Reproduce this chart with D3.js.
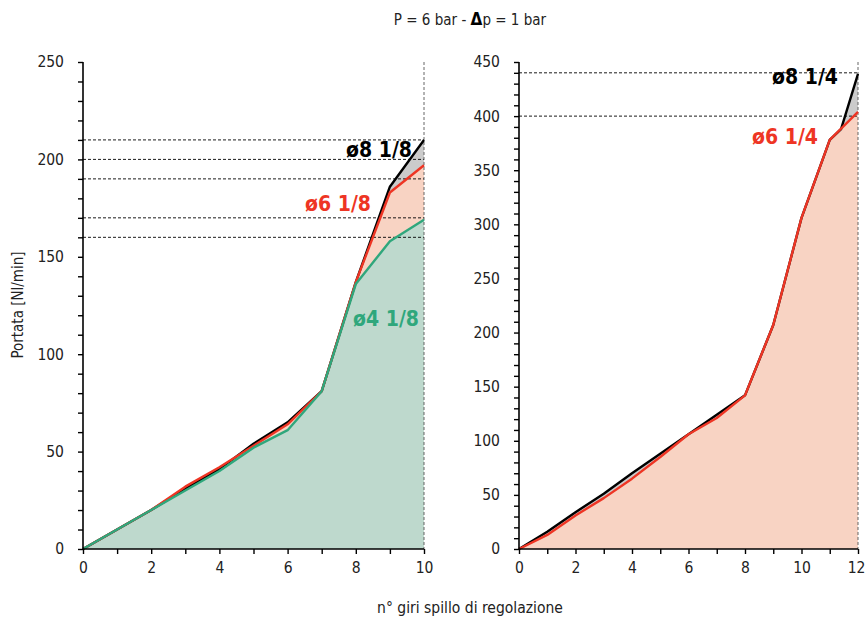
<!DOCTYPE html>
<html><head><meta charset="utf-8">
<script src="https://cdn.jsdelivr.net/npm/d3@7"></script>
<style>
body{margin:0;background:#fff;}
text{font-family:"Liberation Sans Narrow","DejaVu Sans Condensed","Roboto Condensed",sans-serif;}
</style></head><body>
<svg id="c" width="865" height="619"></svg>
<script>
// Left chart (1/8)
const xLeft = [0,1,2,3,4,5,6,7,8,9,10];
const leftBlack = [0,10,20,31,41,54,65,81,137,186,210];   // ø8 1/8
const leftRed   = [0,10,20,32,42,53,64,81,137,183,197];   // ø6 1/8
const leftGreen = [0,10,20,30,40,52,61,81,136,158,169];   // ø4 1/8
const leftRefLines = [210,200,190,170,160];
const leftYTicks = [0,50,100,150,200,250];
const leftXTicks = [0,2,4,6,8,10];
// Right chart (1/4)
const xRight = [0,1,2,3,4,5,6,7,8,9,10,11,12];
const rightRed = [0,13,31,47,65,85,106,121,142,207,306,378,404]; // ø6 1/4
const xRightBlack = [0,1,2,3,4,5,6,7,8,9,10,11,11.4,12];
const rightBlack = [0,16,34,51,70,88,106,124,142,207,306,378,388,439]; // ø8 1/4
const rightRefLines = [440,400];
const rightYTicks = [0,50,100,150,200,250,300,350,400,450];
const rightXTicks = [0,2,4,6,8,10,12];

const title = "P = 6 bar - ";
const yLabel = "Portata [Nl/min]";
const xLabel = "n° giri spillo di regolazione";

const svg = d3.select("#c");
const C = {black:"#000", red:"#ee3524", green:"#2fa77c",
  grayFill:"#cbcbcb", redFill:"#f8d3c3", greenFill:"#bed9cd"};

function panel(opts){
  const g = svg.append("g");
  const x = d3.scaleLinear().domain([0,opts.xmax]).range([opts.x0,opts.x1]);
  const y = d3.scaleLinear().domain([0,opts.ymax]).range([549,62]);
  const area = (xs) => d3.area().x((d,i)=>x(xs[i])).y0(y(0)).y1(d=>y(d));
  const line = (xs) => d3.line().x((d,i)=>x(xs[i])).y(d=>y(d));
  opts.series.forEach(s=>{
    g.append("path").attr("d",area(s.x)(s.v)).attr("fill",s.fill);
  });
  opts.refs.forEach(r=>{
    g.append("line").attr("x1",x(0)).attr("x2",x(opts.xmax)).attr("y1",y(r)).attr("y2",y(r))
     .attr("stroke","#000").attr("stroke-width",0.9).attr("stroke-dasharray","3,2");
  });
  g.append("line").attr("x1",x(opts.xmax)).attr("x2",x(opts.xmax)).attr("y1",y(opts.ymax)).attr("y2",y(0))
     .attr("stroke","#555").attr("stroke-width",0.9).attr("stroke-dasharray","3,2");
  opts.series.forEach(s=>{
    g.append("path").attr("d",line(s.x)(s.v)).attr("fill","none").attr("stroke",s.stroke)
     .attr("stroke-width",2.4).attr("stroke-linejoin","round");
  });
  const yAx = d3.axisLeft(y).tickValues(d3.range(0,opts.ymax+1,10)).tickSize(5)
     .tickFormat(d=>opts.yticks.includes(d)?d:"");
  const ya = g.append("g").attr("transform",`translate(${x(0)},0)`).call(yAx);
  const xAx = d3.axisBottom(x).tickValues(d3.range(0,opts.xmax+1,1)).tickSize(5)
     .tickFormat(d=>opts.xticks.includes(d)?d:"");
  const xa = g.append("g").attr("transform",`translate(0,${y(0)})`).call(xAx);
  [ya,xa].forEach(a=>{
    a.select(".domain").attr("stroke","#000").attr("stroke-width",1.6);
    a.selectAll(".tick line").attr("stroke","#000").attr("stroke-width",1.4);
    a.selectAll("text").attr("font-size",15.5).attr("fill","#222")
      .attr("font-family",'"Liberation Sans Narrow","DejaVu Sans Condensed",sans-serif');
  });
  ya.select(".domain").attr("d",`M0,${y(opts.ymax)}V${y(0)}`);
  xa.select(".domain").attr("d",`M${x(0)},0H${x(opts.xmax)}`);
  ya.selectAll("text").attr("x",-19);
  xa.selectAll("text").attr("y",13);
  // keep the last label inside the page
  xa.selectAll(".tick text").filter(d=>x(d)>850).attr("text-anchor","end").attr("x",865-x(opts.xmax));
  opts.labels.forEach(l=>{
    g.append("text").attr("x",l.x).attr("y",l.y).attr("text-anchor","end")
     .attr("font-size",21).attr("font-weight","bold").attr("fill",l.c).text(l.t);
  });
}

panel({x0:83,x1:424,xmax:10,ymax:250,refs:leftRefLines,yticks:leftYTicks,xticks:leftXTicks,
  series:[
    {x:xLeft,v:leftBlack,fill:C.grayFill,stroke:C.black},
    {x:xLeft,v:leftRed,fill:C.redFill,stroke:C.red},
    {x:xLeft,v:leftGreen,fill:C.greenFill,stroke:C.green}],
  labels:[{x:412,y:157,t:"ø8 1/8",c:"#000"},{x:371,y:211,t:"ø6 1/8",c:C.red},{x:419,y:326,t:"ø4 1/8",c:C.green}]
});
panel({x0:519,x1:858,xmax:12,ymax:450,refs:rightRefLines,yticks:rightYTicks,xticks:rightXTicks,
  series:[
    {x:xRightBlack,v:rightBlack,fill:C.grayFill,stroke:C.black},
    {x:xRight,v:rightRed,fill:C.redFill,stroke:C.red}],
  labels:[{x:838,y:84,t:"ø8 1/4",c:"#000"},{x:818,y:144,t:"ø6 1/4",c:C.red}]
});

const t = svg.append("text").attr("x",470).attr("y",25).attr("text-anchor","middle")
  .attr("font-size",15).attr("fill","#222");
t.append("tspan").text(title);
t.append("tspan").attr("font-weight","bold").attr("fill","#000").attr("font-size",17).text("Δ");
t.append("tspan").text("p = 1 bar");

svg.append("text").attr("transform","translate(23,305) rotate(-90)").attr("text-anchor","middle")
  .attr("font-size",15).attr("fill","#222").text(yLabel);
svg.append("text").attr("x",470).attr("y",613).attr("text-anchor","middle")
  .attr("font-size",15.5).attr("fill","#222").text(xLabel);
</script></body></html>
